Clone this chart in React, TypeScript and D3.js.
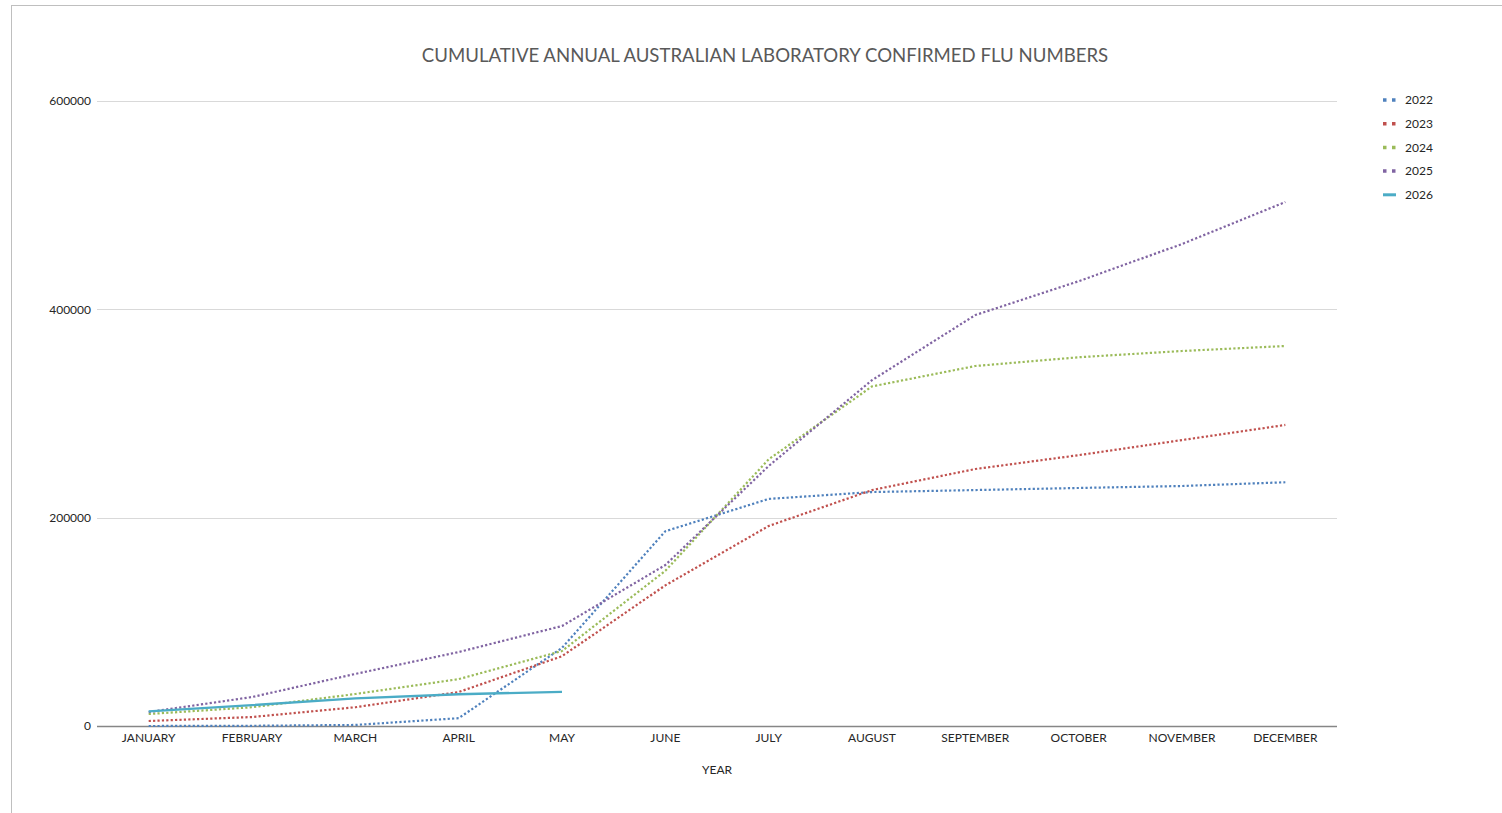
import React from 'react';
import * as d3 from 'd3';

const months = [
  'JANUARY', 'FEBRUARY', 'MARCH', 'APRIL', 'MAY', 'JUNE',
  'JULY', 'AUGUST', 'SEPTEMBER', 'OCTOBER', 'NOVEMBER', 'DECEMBER',
];

const years = ['2022', '2023', '2024', '2025', '2026'];

const flu2022 = [0, 200, 1000, 7500, 75000, 187000, 218000, 224600, 226500, 228500, 230400, 234000];
const flu2023 = [4800, 8600, 18000, 32600, 67000, 135000, 192000, 226500, 246700, 260000, 274500, 289000];
const flu2024 = [11500, 18000, 30700, 45000, 72000, 149000, 256000, 326000, 345600, 354000, 360000, 364800];
const flu2025 = [13400, 27800, 50000, 71000, 96000, 154500, 249600, 332000, 394500, 427000, 462700, 503000];
const flu2026 = [14000, 20000, 26500, 30500, 32800];

const yTicks = [0, 200000, 400000, 600000];

const seriesValues = [flu2022, flu2023, flu2024, flu2025, flu2026];
const colors = ['#4F81BD', '#C0504D', '#9BBB59', '#8064A2', '#4BACC6'];
const dotted = [true, true, true, true, false];

const W = 1502;
const H = 813;
const margin = { top: 101, right: 165, bottom: 87, left: 97 };
const font = 'Lato, "Noto Sans", sans-serif';

const App: React.FC = () => {
  const svgRef = React.useRef<SVGSVGElement>(null);

  React.useEffect(() => {
    if (!svgRef.current) return;
    const svg = d3.select(svgRef.current);
    svg.selectAll('*').remove();

    const plotW = W - margin.left - margin.right;
    const plotH = H - margin.top - margin.bottom;

    const x = d3.scaleBand().domain(months).range([0, plotW]);
    const y = d3.scaleLinear().domain([0, 600000]).range([plotH, 0]);

    // outer chart border
    svg.append('rect')
      .attr('x', 11.5).attr('y', 5.5)
      .attr('width', W + 20).attr('height', H + 20)
      .attr('fill', '#fff').attr('stroke', '#bfbfbf').attr('stroke-width', 1);

    svg.append('text')
      .attr('x', 765).attr('y', 62)
      .attr('text-anchor', 'middle')
      .attr('font-family', font)
      .attr('font-size', 18.6)
      .attr('fill', '#595959')
      .text('CUMULATIVE ANNUAL AUSTRALIAN LABORATORY CONFIRMED FLU NUMBERS');

    const g = svg.append('g').attr('transform', `translate(${margin.left},${margin.top})`);

    // gridlines
    g.append('g')
      .selectAll('line')
      .data(yTicks.filter(t => t > 0))
      .enter().append('line')
      .attr('x1', 0).attr('x2', plotW)
      .attr('y1', d => Math.round(y(d)) + 0.5).attr('y2', d => Math.round(y(d)) + 0.5)
      .attr('stroke', '#d9d9d9').attr('stroke-width', 1);

    // y tick labels
    g.append('g')
      .selectAll('text')
      .data(yTicks)
      .enter().append('text')
      .attr('x', -6).attr('y', d => y(d))
      .attr('dy', '0.35em')
      .attr('text-anchor', 'end')
      .attr('font-family', font).attr('font-size', 12).attr('fill', '#262626')
      .text(d => d);

    // x axis
    g.append('line')
      .attr('x1', 0).attr('x2', plotW)
      .attr('y1', plotH + 0.5).attr('y2', plotH + 0.5)
      .attr('stroke', '#868686').attr('stroke-width', 1.5);

    g.append('g')
      .selectAll('text')
      .data(months)
      .enter().append('text')
      .attr('x', d => (x(d) || 0) + x.bandwidth() / 2)
      .attr('y', plotH + 16)
      .attr('text-anchor', 'middle')
      .attr('font-family', font).attr('font-size', 12).attr('fill', '#262626')
      .text(d => d);

    g.append('text')
      .attr('x', plotW / 2).attr('y', plotH + 48)
      .attr('text-anchor', 'middle')
      .attr('font-family', font).attr('font-size', 12).attr('fill', '#262626')
      .text('YEAR');

    const line = d3.line<number>()
      .x((_, i) => (x(months[i]) || 0) + x.bandwidth() / 2)
      .y(d => y(d));

    seriesValues.forEach((vals, i) => {
      g.append('path')
        .datum(vals)
        .attr('d', line)
        .attr('fill', 'none')
        .attr('stroke', colors[i])
        .attr('stroke-width', dotted[i] ? 2.2 : 2.4)
        .attr('stroke-dasharray', dotted[i] ? '2.2 2.2' : null)
        .attr('stroke-linejoin', 'round');
    });

    // legend
    const legend = svg.append('g')
      .selectAll('g')
      .data(years)
      .enter().append('g')
      .attr('transform', (_, i) => `translate(1383,${100 + i * 23.7})`);

    legend.append('line')
      .attr('x1', 0).attr('x2', 13)
      .attr('y1', 0).attr('y2', 0)
      .attr('stroke', (_, i) => colors[i])
      .attr('stroke-width', (_, i) => (dotted[i] ? 3.5 : 3))
      .attr('stroke-dasharray', (_, i) => (dotted[i] ? '3.5 5.5' : null));

    legend.append('text')
      .attr('x', 22).attr('y', 0)
      .attr('dy', '0.35em')
      .attr('font-family', font).attr('font-size', 12).attr('fill', '#262626')
      .text(d => d);
  }, []);

  return (
    <svg
      ref={svgRef}
      width={W}
      height={H}
      style={{ position: 'absolute', left: 0, top: 0, display: 'block', background: '#fff' }}
    />
  );
};

export default App;
